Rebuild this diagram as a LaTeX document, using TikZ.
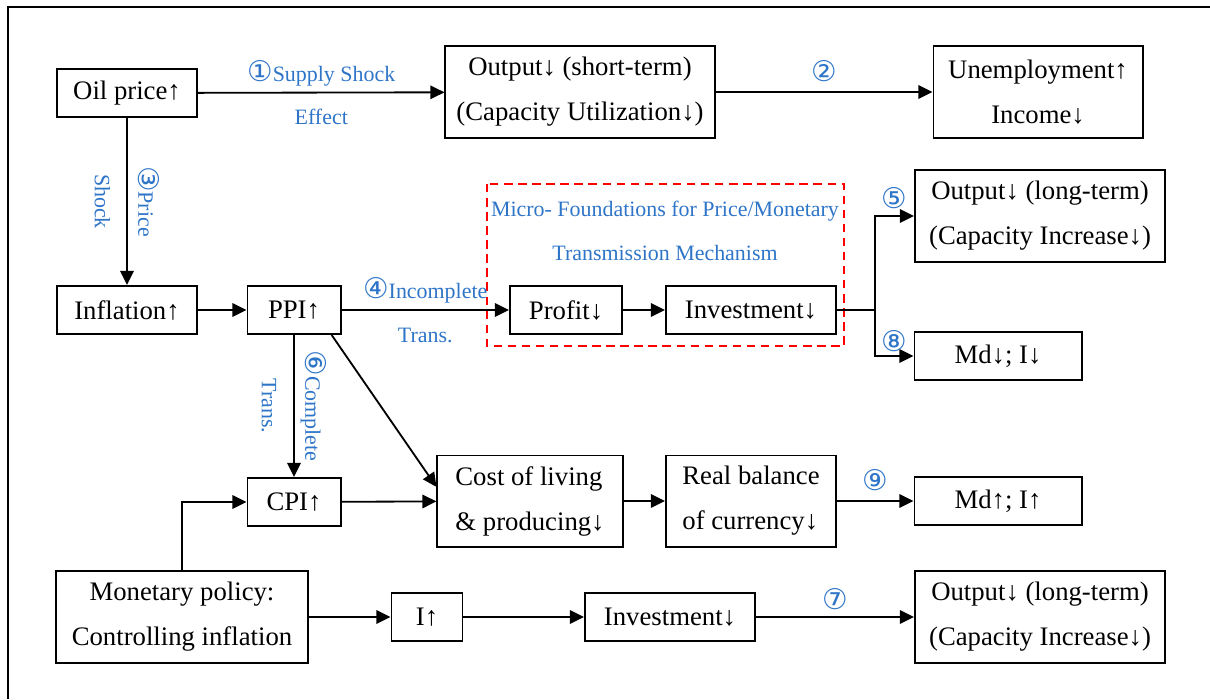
\documentclass[tikz,border=0pt]{standalone}
\usepackage{fontspec}
\setmainfont{Liberation Serif}
\newfontfamily\circfont[Scale=1.3]{DejaVu Sans}
\usepackage{tikz}
\usetikzlibrary{arrows.meta}
\definecolor{lblue}{RGB}{46,117,200}
\newcommand{\cn}[1]{{\circfont #1}}

\begin{document}
\begin{tikzpicture}[x=0.025cm, y=-0.025cm, ->, >={Triangle[length=10pt, width=9.5pt]}, line width=1.3pt,
		box/.style={draw, line width=1.4pt, align=center, inner sep=0pt, minimum height=1.2cm, font=\fontsize{19}{32}\selectfont},
		tall/.style={box, minimum height=2.3cm},
		lbl/.style={text=lblue, align=center, font=\fontsize{15.6}{31}\selectfont}]
		\useasboundingbox (0,0) rectangle (1210,699);
		\draw[-, line width=1pt] (8,699) -- (8,7) -- (1210,7);
		
		\node[box, minimum width=3.5cm] (oil) at (127,93) {Oil price↑};
		\node[tall, minimum width=6.725cm] (outs) at (580,92) {Output↓ (short-term)\\(Capacity Utilization↓)};
		\node[tall, minimum width=5.225cm] (unemp) at (1038,92) {Unemployment↑\\Income↓};
		
		\node[box, minimum width=3.5cm] (infl) at (127,310) {Inflation↑};
		\node[box, minimum width=2.325cm] (ppi) at (294,310) {PPI↑};
		\draw[-, red, line width=1.3pt, dash pattern=on 6pt off 4pt] (487,184) rectangle (844,346);
		\node[lbl] (micro) at (665,231) {Micro- Foundations for Price/Monetary\\Transmission Mechanism};
		\node[box, minimum width=2.8cm] (profit) at (566,310) {Profit↓};
		\node[box, minimum width=4.25cm] (inv1) at (751,310) {Investment↓};
		\node[tall, minimum width=6.25cm] (outl1) at (1040,216) {Output↓ (long-term)\\(Capacity Increase↓)};
		\node[box, minimum width=4.175cm] (mddown) at (998,356) {Md↓; I↓};
		\coordinate (split) at (875,310);
		
		\node[box, minimum width=2.325cm] (cpi) at (294,502) {CPI↑};
		\node[tall, align=left, minimum width=4.625cm, minimum height=2.275cm] (cost) at (530,501) {Cost of living\\\& producing↓};
		\node[tall, align=left, minimum width=4.25cm, minimum height=2.275cm] (real) at (751,501) {Real balance\\of currency↓};
		\node[box, minimum width=4.175cm] (mdup) at (998,501) {Md↑; I↑};
		
		\node[tall, minimum width=6.275cm] (mon) at (182,617) {Monetary policy:\\Controlling inflation};
		\node[box, minimum width=1.775cm] (irate) at (427,617) {I↑};
		\node[box, minimum width=4.25cm] (inv2) at (670,617) {Investment↓};
		\node[tall, minimum width=6.25cm] (outl2) at (1040,617) {Output↓ (long-term)\\(Capacity Increase↓)};
		
		\draw (oil) -- node[lbl] {\cn{①}Supply Shock\\Effect} (outs);
		\draw (outs) -- node[lbl, above=3pt] {\cn{②}} (unemp);
		\draw (oil) -- node[lbl, rotate=-90] {\cn{③}Price\\Shock} (infl);
		\draw (infl) -- (ppi);
		\draw (ppi) -- node[lbl] {\cn{④}Incomplete\\Trans.} (profit);
		\draw (profit) -- (inv1);
		\draw[-] (inv1) -- (split);
		\draw (split) |- node[lbl, pos=0.75, above=1pt] {\cn{⑤}} (outl1);
		\draw (split) |- node[lbl, pos=0.75, above=-1pt] {\cn{⑧}} (mddown);
		\draw (ppi) -- node[lbl, rotate=-90] {\cn{⑥}Complete\\Trans.} (cpi);
		\draw ([xshift=-7pt]ppi.south east) -- ([yshift=10pt]cost.west);
		\draw (cpi) -- (cost);
		\draw (cost) -- (real);
		\draw (real) -- node[lbl, above=3pt] {\cn{⑨}} (mdup);
		\draw (mon) |- (cpi);
		\draw (mon) -- (irate);
		\draw (irate) -- (inv2);
		\draw (inv2) -- node[lbl, above=1pt] {\cn{⑦}} (outl2);
	\end{tikzpicture}
\end{document}
